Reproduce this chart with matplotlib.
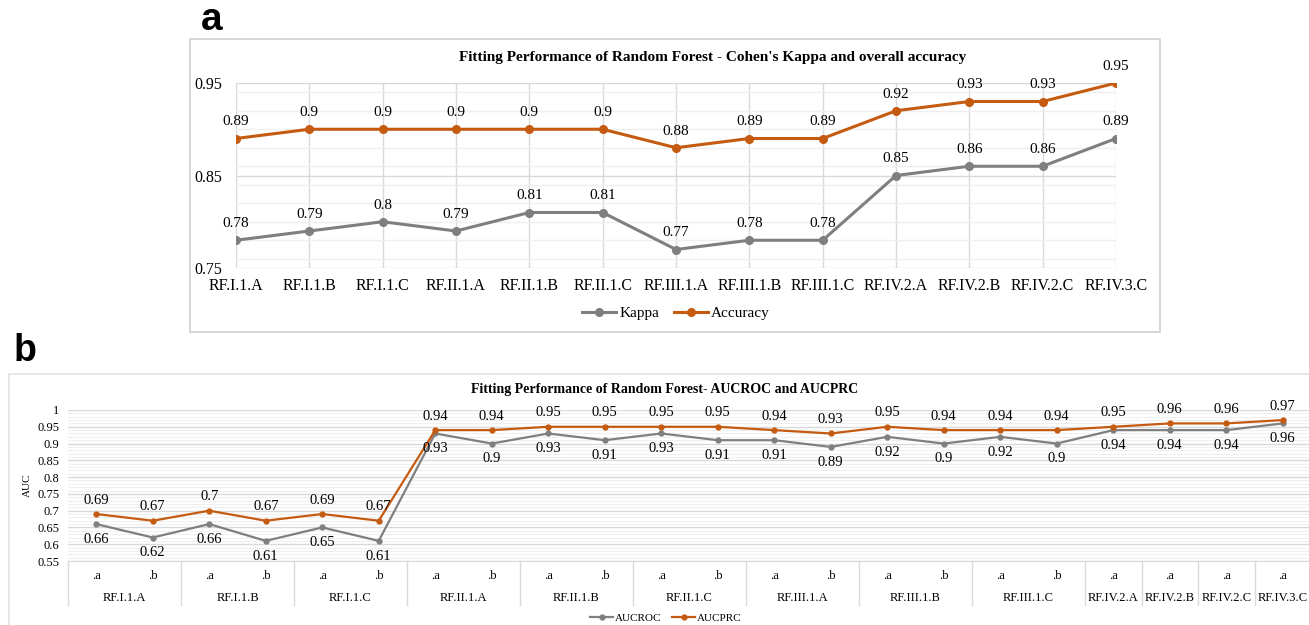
import matplotlib.pyplot as plt
import matplotlib.transforms as mtransforms
from matplotlib.patches import Rectangle
from matplotlib.ticker import MultipleLocator

plt.rcParams['font.family'] = ['Liberation Serif', 'DejaVu Serif']

# panel a data
models_a = ['RF.I.1.A', 'RF.I.1.B', 'RF.I.1.C', 'RF.II.1.A', 'RF.II.1.B', 'RF.II.1.C',
            'RF.III.1.A', 'RF.III.1.B', 'RF.III.1.C', 'RF.IV.2.A', 'RF.IV.2.B',
            'RF.IV.2.C', 'RF.IV.3.C']
kappa = [0.78, 0.79, 0.8, 0.79, 0.81, 0.81, 0.77, 0.78, 0.78, 0.85, 0.86, 0.86, 0.89]
accuracy = [0.89, 0.9, 0.9, 0.9, 0.9, 0.9, 0.88, 0.89, 0.89, 0.92, 0.93, 0.93, 0.95]

# panel b data
groups_b = ['RF.I.1.A', 'RF.I.1.B', 'RF.I.1.C', 'RF.II.1.A', 'RF.II.1.B', 'RF.II.1.C',
            'RF.III.1.A', 'RF.III.1.B', 'RF.III.1.C', 'RF.IV.2.A', 'RF.IV.2.B',
            'RF.IV.2.C', 'RF.IV.3.C']
subs_b = [['.a', '.b']] * 9 + [['.a']] * 4
aucroc = [0.66, 0.62, 0.66, 0.61, 0.65, 0.61, 0.93, 0.9, 0.93, 0.91, 0.93, 0.91,
          0.91, 0.89, 0.92, 0.9, 0.92, 0.9, 0.94, 0.94, 0.94, 0.96]
aucprc = [0.69, 0.67, 0.7, 0.67, 0.69, 0.67, 0.94, 0.94, 0.95, 0.95, 0.95, 0.95,
          0.94, 0.93, 0.95, 0.94, 0.94, 0.94, 0.95, 0.96, 0.96, 0.97]

GRAY = '#7F7F7F'
ORANGE = '#C55A11'
GRID = '#D9D9D9'
MINOR = '#EFEFEF'

W, H = 1309, 625
fig = plt.figure(figsize=(W / 100, H / 100), dpi=100)


def fx(px):
    return px / W


def fy(py):
    return 1 - py / H


# ---------- panel a ----------
fig.patches.append(Rectangle((fx(190), fy(332)), fx(970), 293 / H, transform=fig.transFigure,
                             fill=False, edgecolor='#D0D0D0', linewidth=1.2))
fig.text(fx(212), fy(20), 'a', family='Liberation Sans', fontweight='bold', fontsize=28,
         ha='center', va='center')
fig.text(fx(713), fy(58), "Fitting Performance of Random Forest - Cohen's Kappa and overall accuracy",
         fontweight='bold', fontsize=11, ha='center', va='center')

axa = fig.add_axes([fx(236), fy(268), fx(880), 185 / H])
xa = list(range(len(models_a)))
la1, = axa.plot(xa, kappa, color=GRAY, lw=2.2, marker='o', ms=5.5, label='Kappa', zorder=3)
la2, = axa.plot(xa, accuracy, color=ORANGE, lw=2.2, marker='o', ms=5.5, label='Accuracy', zorder=3)
for x, v in zip(xa, kappa):
    axa.annotate(f'{v:g}', (x, v), xytext=(0, 12), textcoords='offset points',
                 ha='center', va='center', fontsize=11)
for x, v in zip(xa, accuracy):
    axa.annotate(f'{v:g}', (x, v), xytext=(0, 12), textcoords='offset points',
                 ha='center', va='center', fontsize=11)
axa.set_xlim(0, len(models_a) - 1)
axa.set_ylim(0.75, 0.95)
axa.set_yticks([0.75, 0.85, 0.95])
axa.set_yticklabels(['0.75', '0.85', '0.95'])
axa.yaxis.set_minor_locator(MultipleLocator(0.02))
axa.set_xticks(xa)
axa.set_xticklabels(models_a)
axa.tick_params(axis='both', which='both', length=0, labelsize=11.5)
axa.tick_params(axis='x', pad=7)
axa.tick_params(axis='y', pad=10)
axa.grid(which='major', color=GRID, lw=1)
axa.grid(which='minor', axis='y', color=MINOR, lw=1)
axa.set_axisbelow(True)
for s in axa.spines.values():
    s.set_visible(False)
fig.legend(handles=[la1, la2], loc='center', bbox_to_anchor=(fx(676), fy(313)), ncol=2,
           frameon=False, fontsize=11, handlelength=2.2, columnspacing=1.0, handletextpad=0.2)

# ---------- panel b ----------
fig.patches.append(Rectangle((fx(9), fy(640)), fx(1320), 266 / H, transform=fig.transFigure,
                             fill=False, edgecolor='#E3E3E3', linewidth=1.2))
fig.text(fx(25), fy(351), 'b', family='Liberation Sans', fontweight='bold', fontsize=27,
         ha='center', va='center')
fig.text(fx(665), fy(390), 'Fitting Performance of Random Forest- AUCROC and AUCPRC',
         fontweight='bold', fontsize=10, ha='center', va='center')

axb = fig.add_axes([fx(68), fy(561), fx(1243), 151 / H])
xb = list(range(len(aucroc)))
lb1, = axb.plot(xb, aucroc, color=GRAY, lw=1.6, marker='o', ms=3.5, label='AUCROC', zorder=3)
lb2, = axb.plot(xb, aucprc, color=ORANGE, lw=1.6, marker='o', ms=3.5, label='AUCPRC', zorder=3)
for x, v in zip(xb, aucroc):
    axb.annotate(f'{v:g}', (x, v), xytext=(0, -11), textcoords='offset points',
                 ha='center', va='center', fontsize=10.5)
for x, v in zip(xb, aucprc):
    axb.annotate(f'{v:g}', (x, v), xytext=(0, 10), textcoords='offset points',
                 ha='center', va='center', fontsize=10.5)
axb.set_xlim(-0.5, len(aucroc) - 0.5)
axb.set_ylim(0.55, 1.0)
yt = [0.55, 0.6, 0.65, 0.7, 0.75, 0.8, 0.85, 0.9, 0.95, 1.0]
axb.set_yticks(yt)
axb.set_yticklabels([f'{v:g}' for v in yt])
axb.yaxis.set_minor_locator(MultipleLocator(0.01))
axb.set_xticks([])
axb.tick_params(axis='y', which='both', length=0, labelsize=9, pad=6)
axb.set_ylabel('AUC', fontsize=8, labelpad=4)
axb.grid(which='major', axis='y', color=GRID, lw=1)
axb.grid(which='minor', axis='y', color=MINOR, lw=0.8)
axb.set_axisbelow(True)
for k, s in axb.spines.items():
    s.set_visible(k == 'bottom')
axb.spines['bottom'].set_color(GRID)

# two-level category axis
trans = mtransforms.blended_transform_factory(axb.transData, axb.transAxes)
pos = 0
axb.plot([-0.5, -0.5], [0, -0.29], transform=trans, color=GRID, lw=1, clip_on=False)
for g, subs in zip(groups_b, subs_b):
    for j, sub in enumerate(subs):
        axb.text(pos + j, -0.1, sub, transform=trans, ha='center', va='center', fontsize=9)
    axb.text(pos + (len(subs) - 1) / 2, -0.245, g, transform=trans, ha='center', va='center',
             fontsize=9)
    pos += len(subs)
    axb.plot([pos - 0.5, pos - 0.5], [0, -0.29], transform=trans, color=GRID, lw=1, clip_on=False)

fig.legend(handles=[lb1, lb2], loc='center', bbox_to_anchor=(fx(666), fy(618)), ncol=2,
           frameon=False, fontsize=8, handlelength=2.0, columnspacing=1.0, handletextpad=0.2)

plt.savefig('out.png', dpi=100)
